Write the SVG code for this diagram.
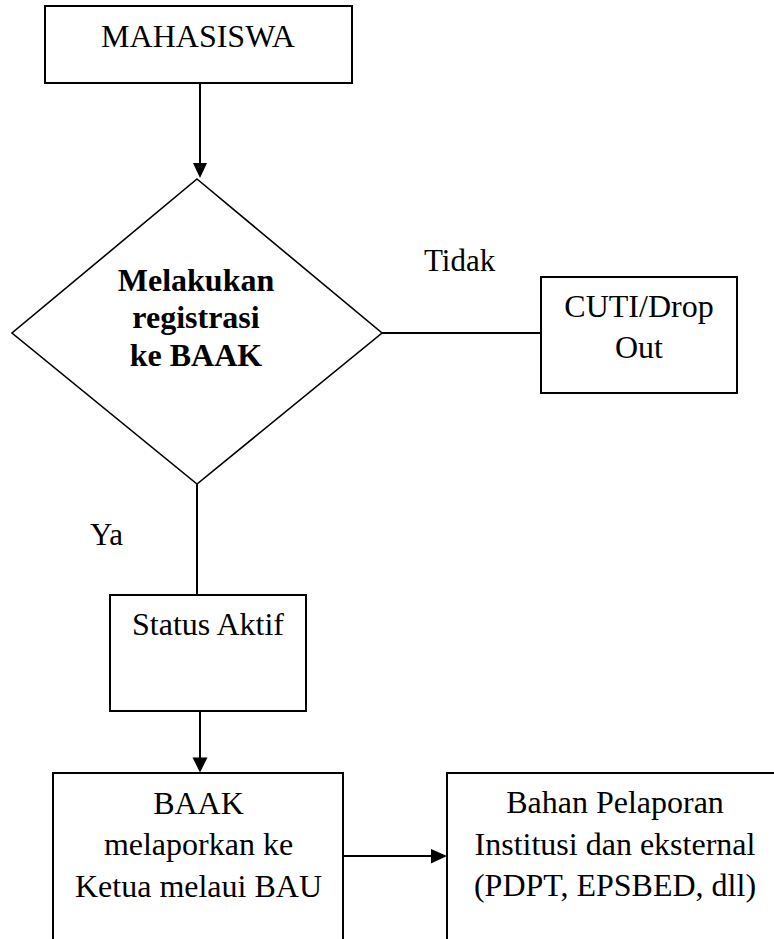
<svg xmlns="http://www.w3.org/2000/svg" width="774" height="939" viewBox="0 0 774 939">
<style>
  .box { fill: #fff; stroke: #000; stroke-width: 2; }
  .dia { fill: #fff; stroke: #000; stroke-width: 1.6; }
  .t { font-family: "Liberation Serif", "Times New Roman", serif; font-size: 32px; fill: #000; text-anchor: middle; }
  .b { font-weight: bold; }
  .lbl { font-family: "Liberation Serif", "Times New Roman", serif; font-size: 31px; fill: #000; }
  .ln { fill: none; stroke: #000; stroke-width: 2; }
  .ah { fill: #000; stroke: none; }
</style>
<rect width="774" height="939" fill="#fff"/>
<g id="connectors">
  <line class="ln" x1="200" y1="83" x2="200" y2="164" stroke-width="2.5"/>
  <polygon class="ah" points="193,163 207,163 200,178"/>
  <line class="ln" x1="382" y1="333" x2="541" y2="333"/>
  <line class="ln" x1="197" y1="484" x2="197" y2="595"/>
  <line class="ln" x1="200" y1="711" x2="200" y2="759" stroke-width="2.5"/>
  <polygon class="ah" points="192.5,757.5 207.5,757.5 200,772.5"/>
  <line class="ln" x1="343" y1="856" x2="432" y2="856" stroke-width="2.5"/>
  <polygon class="ah" points="431,849 431,863.5 447,856"/>
  <text class="lbl" x="424" y="271">Tidak</text>
  <text class="lbl" x="90" y="545">Ya</text>
</g>
<g id="mahasiswa">
  <rect class="box" x="45" y="6" width="307" height="77"/>
  <text class="t" x="198" y="47">MAHASISWA</text>
</g>
<g id="registrasi">
  <polygon class="dia" points="197,179 382,333 197,484 12,333"/>
  <text class="t b" x="196" y="291">Melakukan</text>
  <text class="t b" x="196" y="328">registrasi</text>
  <text class="t b" x="196" y="366">ke BAAK</text>
</g>
<g id="cuti">
  <rect class="box" x="541" y="277" width="196" height="116"/>
  <text class="t" x="639" y="317">CUTI/Drop</text>
  <text class="t" x="639" y="358">Out</text>
</g>
<g id="status">
  <rect class="box" x="110" y="595" width="196" height="116"/>
  <text class="t" x="208" y="635">Status Aktif</text>
</g>
<g id="baak">
  <rect class="box" x="53" y="773" width="290" height="180"/>
  <text class="t" x="198.5" y="814">BAAK</text>
  <text class="t" x="198.5" y="855">melaporkan ke</text>
  <text class="t" x="198.5" y="897">Ketua melaui BAU</text>
</g>
<g id="bahan">
  <rect class="box" x="447" y="773" width="340" height="180"/>
  <text class="t" x="615" y="813">Bahan Pelaporan</text>
  <text class="t" x="615" y="855">Institusi dan eksternal</text>
  <text class="t" x="615" y="896">(PDPT, EPSBED, dll)</text>
</g>
</svg>
